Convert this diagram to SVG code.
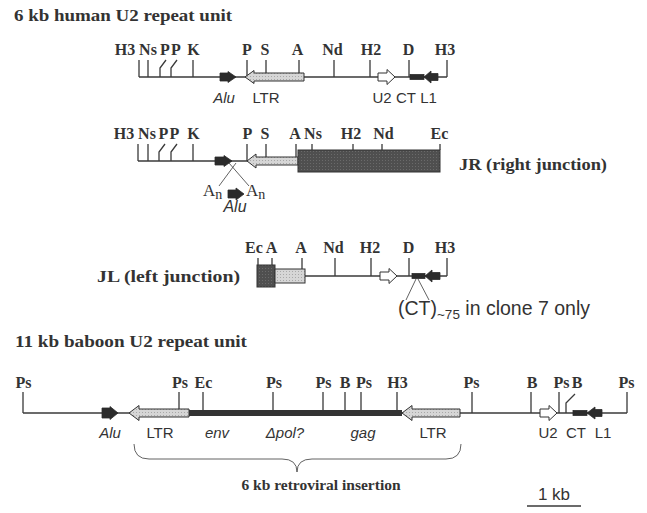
<svg xmlns="http://www.w3.org/2000/svg" width="647" height="513" viewBox="0 0 647 513">
<defs>
<style>
.t{font-family:"Liberation Serif",serif;font-weight:bold;font-size:17px;fill:#333}
.lb{font-family:"Liberation Serif",serif;font-weight:bold;font-size:16px;fill:#333;text-anchor:middle}
.s{font-family:"Liberation Sans",Arial,sans-serif;font-size:15px;fill:#333;text-anchor:middle}
.i{font-style:italic}
.ln{stroke:#3a3a3a;stroke-width:1.6;fill:none}
.tk{stroke:#3a3a3a;stroke-width:1.3;fill:none}
.th{stroke:#3a3a3a;stroke-width:0.8;fill:none}
.ltr{fill:url(#lt);stroke:#333;stroke-width:1}
.blk{fill:#2b2b2b;stroke:#2b2b2b;stroke-width:0.8}
.wht{fill:#fff;stroke:#333;stroke-width:1}
.dk{fill:url(#dkp);stroke:#333;stroke-width:1}
</style>
<pattern id="lt" width="3" height="3" patternUnits="userSpaceOnUse">
<rect width="3" height="3" fill="#d6d6d6"/><rect x="1" y="1" width="1" height="1" fill="#a8a8a8"/>
</pattern>
<pattern id="dkp" width="3" height="3" patternUnits="userSpaceOnUse">
<rect width="3" height="3" fill="#4f4f4f"/><rect x="1" y="1" width="1" height="1" fill="#6a6a6a"/>
</pattern>
</defs>
<rect width="647" height="513" fill="#fff"/>

<!-- Row 1: human U2 repeat unit -->
<g id="human">
<text class="t" x="14" y="21" textLength="218" lengthAdjust="spacingAndGlyphs">6 kb human U2 repeat unit</text>
<g class="lb">
<text x="125" y="55">H3</text><text x="148" y="55">Ns</text><text x="165" y="55">P</text><text x="176" y="55">P</text><text x="193.5" y="55">K</text>
<text x="247" y="55">P</text><text x="265" y="55">S</text><text x="297.5" y="55">A</text><text x="332.5" y="55">Nd</text><text x="371" y="55">H2</text><text x="408.5" y="55">D</text><text x="445" y="55">H3</text>
</g>
<path class="ln" d="M139 77 H447"/>
<path class="tk" d="M139 60V77M148 60V77M160 77V68L166 60M171 77V68L177 60M193 60V77M247 60V77M266 60V73M299 60V73M334 60V77M370 60V77M409 60V77M447 60V77"/>
<polygon class="blk" points="220,73 228,73 228,71.5 236,77 228,82.5 228,81 220,81"/>
<polygon class="ltr" points="245,77 254,70.5 254,73 304,73 304,81 254,81 254,83.5"/>
<polygon class="wht" points="378,73 387,73 387,69.5 395,77 387,84.5 387,81 378,81"/>
<rect class="blk" x="410" y="74.5" width="14" height="5"/>
<polygon class="blk" points="424,77 431,71 431,73.5 438,73.5 438,80.5 431,80.5 431,83"/>
<g style="font-size:16px">
<text class="s i" x="224" y="103">Alu</text><text class="s" x="266" y="103">LTR</text>
<text class="s" x="382" y="103">U2</text><text class="s" x="406" y="103">CT</text><text class="s" x="428.5" y="103">L1</text>
</g>
</g>

<!-- Row 2: JR -->
<g id="jr">
<g class="lb">
<text x="124" y="139">H3</text><text x="147" y="139">Ns</text><text x="163.5" y="139">P</text><text x="174.5" y="139">P</text><text x="193.5" y="139">K</text>
<text x="247.5" y="139">P</text><text x="265" y="139">S</text><text x="295" y="139">A</text><text x="313" y="139">Ns</text><text x="351" y="139">H2</text><text x="383.5" y="139">Nd</text><text x="439.5" y="139">Ec</text>
</g>
<path class="ln" d="M138 161 H298"/>
<path class="tk" d="M138 144V161M148 144V161M159 161V152L165 144M171 161V152L177 144M193 144V161M247 144V161M266 144V157M296 144V157M312 144V150M353 144V150M382 144V150M440 144V150"/>
<polygon class="blk" points="215,157 224,157 224,155.5 232,161 224,166.5 224,165 215,165"/>
<polygon class="ltr" points="247,161 256,154 256,157 298,157 298,165 256,165 256,168"/>
<rect class="dk" x="298" y="150" width="142" height="22"/>
<path class="th" d="M236 163L219 186M229 163L249 186"/>
<text class="t" x="203" y="196" style="font-weight:normal">A<tspan font-size="14" dy="3">n</tspan></text>
<polygon class="blk" points="228,190 236,190 236,188 244,194 236,200 236,198 228,198"/>
<text class="t" x="246" y="196" style="font-weight:normal">A<tspan font-size="14" dy="3">n</tspan></text>
<text class="s i" x="235" y="212" style="font-size:16px">Alu</text>
<text class="t" x="459" y="170" textLength="148" lengthAdjust="spacingAndGlyphs">JR (right junction)</text>
</g>

<!-- Row 3: JL -->
<g id="jl">
<text class="t" x="97" y="282" textLength="143" lengthAdjust="spacingAndGlyphs">JL (left junction)</text>
<g class="lb">
<text x="254" y="253">Ec</text><text x="271.5" y="253">A</text><text x="301" y="253">A</text><text x="333.5" y="253">Nd</text><text x="370" y="253">H2</text><text x="408.5" y="253">D</text><text x="445" y="253">H3</text>
</g>
<path class="ln" d="M305 276 H447"/>
<path class="tk" d="M258 258V265M272 258V265M302 258V269M335 258V276M371 258V276M409 258V276M447 258V276"/>
<rect class="dk" x="257" y="265" width="18" height="22"/>
<rect class="ltr" x="275" y="269" width="30" height="14"/>
<polygon class="wht" points="380,272 389,272 389,268.5 397,276 389,283.5 389,280 380,280"/>
<rect class="blk" x="412" y="273.5" width="13" height="5"/>
<polygon class="blk" points="425,276 432,270 432,272.5 440,272.5 440,279.5 432,279.5 432,282"/>
<path class="th" d="M416 279L406 300M418 279L429 300"/>
<text class="s" x="398" y="315" style="text-anchor:start;font-size:19.5px">(CT)<tspan font-size="13.5" dy="4">~75</tspan><tspan dy="-4"> in clone 7 only</tspan></text>
</g>

<!-- Baboon -->
<g id="baboon">
<text class="t" x="15" y="347" textLength="232" lengthAdjust="spacingAndGlyphs">11 kb baboon U2 repeat unit</text>
<g class="lb">
<text x="23.5" y="388">Ps</text><text x="180" y="388">Ps</text><text x="203.5" y="388">Ec</text><text x="274" y="388">Ps</text><text x="323.5" y="388">Ps</text><text x="345" y="388">B</text><text x="364" y="388">Ps</text><text x="397.5" y="388">H3</text>
<text x="471.5" y="388">Ps</text><text x="532" y="388">B</text><text x="561.5" y="388">Ps</text><text x="577" y="388">B</text><text x="626.5" y="388">Ps</text>
</g>
<path class="ln" d="M23 413 H627"/>
<path d="M189 413 H402" stroke="#333" stroke-width="6"/>
<path class="tk" d="M23 392V413M179 392V409M203 392V410M273 392V410M323 392V410M345 392V410M361 392V410M397 392V410M472 392V413M531 392V413M559 392V413M566 413V403L575 394M627 392V413"/>
<polygon class="blk" points="102,408 110,408 110,406.5 118,413 110,419.5 110,418 102,418"/>
<polygon class="ltr" points="129,413 139,405.5 139,409 189,409 189,417 139,417 139,420.5"/>
<polygon class="ltr" points="402,413 412,405.5 412,409 460,409 460,417 412,417 412,420.5"/>
<polygon class="wht" points="540,409 549,409 549,405.5 557,413 549,420.5 549,417 540,417"/>
<rect class="blk" x="573" y="410.5" width="14" height="5"/>
<polygon class="blk" points="587,413 595,407 595,409.5 602,409.5 602,416.5 595,416.5 595,419"/>
<g style="font-size:17px">
<text class="s i" x="110" y="438">Alu</text><text class="s" x="160" y="438">LTR</text><text class="s i" x="217" y="438">env</text>
<text class="s i" x="285" y="438">Δpol?</text><text class="s i" x="363" y="438">gag</text><text class="s" x="433" y="438">LTR</text>
<text class="s" x="548" y="438">U2</text><text class="s" x="576" y="438">CT</text><text class="s" x="603" y="438">L1</text>
</g>
<path class="th" d="M134 444 Q134 459 149 459 H282 Q297 459 297 472 Q297 459 312 459 H446 Q461 459 461 444" stroke-width="1"/>
<text class="t" x="321" y="490" style="text-anchor:middle;font-size:15.5px">6 kb retroviral insertion</text>
<text class="s" x="554" y="500" style="font-size:17px">1 kb</text>
<path class="ln" d="M527 506 H581"/>
</g>
</svg>
